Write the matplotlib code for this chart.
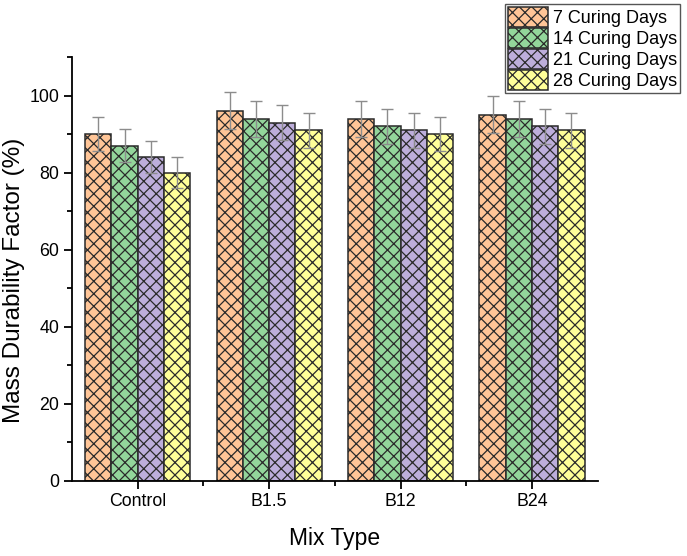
import matplotlib
matplotlib.use('Agg')
import matplotlib.pyplot as plt
import numpy as np

# render at dpi 150 so the hatch tile gets the diamond size of the original
DPI = 150
s = 100.0 / DPI  # point sizes below are written for 100 dpi and scaled

plt.rcParams['font.family'] = ['Liberation Sans', 'DejaVu Sans']
plt.rcParams['hatch.color'] = '#3c3c3c'
plt.rcParams['hatch.linewidth'] = 0.9 * s

# data
mixes = ['Control', 'B1.5', 'B12', 'B24']
series = ['7 Curing Days', '14 Curing Days', '21 Curing Days', '28 Curing Days']
days7 = [90, 96, 94, 95]
days14 = [87, 94, 92, 94]
days21 = [84, 93, 91, 92]
days28 = [80, 91, 90, 91]
err7 = [4.5, 4.8, 4.7, 4.75]
err14 = [4.35, 4.7, 4.6, 4.7]
err21 = [4.2, 4.65, 4.55, 4.6]
err28 = [4.0, 4.55, 4.5, 4.55]

values = [days7, days14, days21, days28]
errors = [err7, err14, err21, err28]
colors = ['#FFC597', '#93D69B', '#BDAEDB', '#FFFF99']

fig = plt.figure(figsize=(687 / DPI, 556 / DPI), dpi=DPI)
ax = fig.add_axes([0.1048, 0.1349, 0.7652, 0.7626])

x = np.arange(len(mixes))
w = 0.2
for i in range(4):
    ax.bar(x + (i - 1.5) * w, values[i], w, color=colors[i], edgecolor='#2a2a2a',
           linewidth=1.1 * s, hatch='xxxx', label=series[i],
           yerr=errors[i], ecolor='#8c8c8c',
           error_kw=dict(elinewidth=1.0 * s, capsize=4 * s, capthick=1.0 * s))

ax.set_xlim(-0.5, 3.5)
ax.set_ylim(0, 110)
ax.set_xticks(x)
ax.set_xticklabels(mixes)
ax.set_xticks(x[:-1] + 0.5, minor=True)
ax.set_yticks([0, 20, 40, 60, 80, 100])
ax.set_yticks([10, 30, 50, 70, 90, 110], minor=True)
ax.tick_params(axis='both', which='major', labelsize=12.8 * s, length=6 * s,
               width=1.3 * s, pad=3 * s, direction='out')
ax.tick_params(axis='both', which='minor', length=3.5 * s, width=1.3 * s, direction='out')

ax.spines['top'].set_visible(False)
ax.spines['right'].set_visible(False)
ax.spines['left'].set_linewidth(1.3 * s)
ax.spines['bottom'].set_linewidth(1.3 * s)

ax.set_xlabel('Mix Type', fontsize=16.5 * s, labelpad=12 * s)
ax.set_ylabel('Mass Durability Factor (%)', fontsize=17.5 * s)
ax.yaxis.set_label_coords(-0.09, 0.474)

leg = fig.legend(loc='upper right', bbox_to_anchor=(0.99, 0.993), fontsize=13 * s,
                 frameon=True, fancybox=False, edgecolor='#555555', framealpha=1,
                 borderpad=0.15, labelspacing=0.05, handlelength=2.2, handleheight=1.35,
                 handletextpad=0.3, borderaxespad=0)
leg.get_frame().set_linewidth(1.0 * s)

fig.savefig('out.png', dpi=DPI)
